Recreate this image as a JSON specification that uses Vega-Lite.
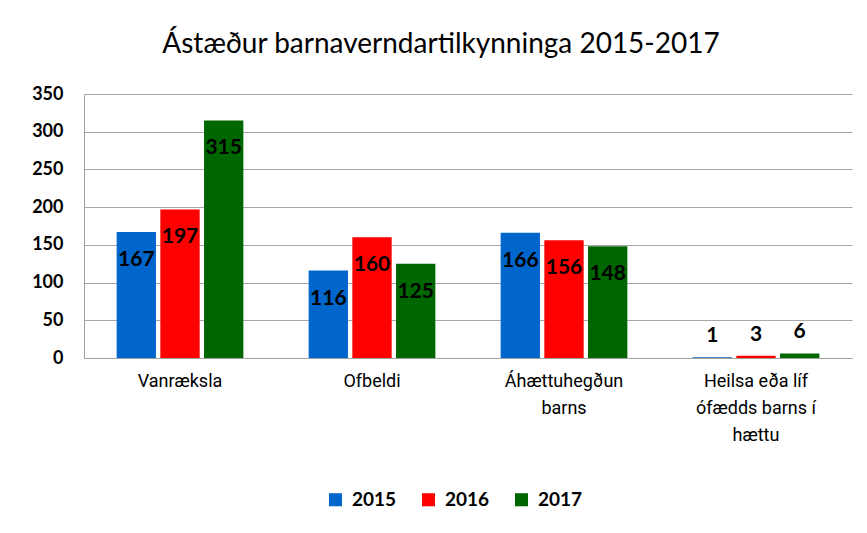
{
  "$schema": "https://vega.github.io/schema/vega-lite/v6.json",
  "width": 768,
  "height": 264,
  "autosize": "none",
  "padding": {"left": 84, "top": 94, "right": 15, "bottom": 175},
  "background": "white",
  "title": {
    "text": "Ástæður barnaverndartilkynninga 2015-2017",
    "font": "Lato",
    "fontSize": 28,
    "fontWeight": "normal",
    "color": "#000000",
    "anchor": "middle",
    "dx": -27,
    "offset": 26
  },
  "data": {
    "values": [
      {"flokkur": "Vanræksla", "ar": "2015", "fjoldi": 167},
      {"flokkur": "Vanræksla", "ar": "2016", "fjoldi": 197},
      {"flokkur": "Vanræksla", "ar": "2017", "fjoldi": 315},
      {"flokkur": "Ofbeldi", "ar": "2015", "fjoldi": 116},
      {"flokkur": "Ofbeldi", "ar": "2016", "fjoldi": 160},
      {"flokkur": "Ofbeldi", "ar": "2017", "fjoldi": 125},
      {"flokkur": "Áhættuhegðun barns", "ar": "2015", "fjoldi": 166},
      {"flokkur": "Áhættuhegðun barns", "ar": "2016", "fjoldi": 156},
      {"flokkur": "Áhættuhegðun barns", "ar": "2017", "fjoldi": 148},
      {"flokkur": "Heilsa eða líf ófædds barns í hættu", "ar": "2015", "fjoldi": 1},
      {"flokkur": "Heilsa eða líf ófædds barns í hættu", "ar": "2016", "fjoldi": 3},
      {"flokkur": "Heilsa eða líf ófædds barns í hættu", "ar": "2017", "fjoldi": 6}
    ]
  },
  "encoding": {
    "x": {
      "field": "flokkur",
      "type": "nominal",
      "sort": null,
      "scale": {"paddingInner": 0.34, "paddingOuter": 0.17},
      "axis": {
        "title": null,
        "labelAngle": 0,
        "ticks": false,
        "labelPadding": 14,
        "labelFont": "Roboto",
        "labelFontSize": 18,
        "labelColor": "#000000",
        "labelLineHeight": 27,
        "labelBaseline": "top",
        "labelLimit": 300,
        "domainColor": "#a0a0a0",
        "labelExpr": "datum.value == 'Áhættuhegðun barns' ? ['Áhættuhegðun', 'barns'] : datum.value == 'Heilsa eða líf ófædds barns í hættu' ? ['Heilsa eða líf', 'ófædds barns í', 'hættu'] : datum.value"
      }
    },
    "xOffset": {
      "field": "ar",
      "type": "nominal",
      "scale": {"paddingInner": 0.1, "paddingOuter": 0}
    },
    "y": {
      "field": "fjoldi",
      "type": "quantitative",
      "scale": {"domain": [0, 350]},
      "axis": {
        "title": null,
        "values": [0, 50, 100, 150, 200, 250, 300, 350],
        "ticks": false,
        "labelPadding": 21,
        "labelFont": "Lato",
        "labelFontSize": 18,
        "labelFontWeight": "bold",
        "labelColor": "#000000",
        "gridColor": "#a8a8a8",
        "domainColor": "#a0a0a0"
      }
    }
  },
  "layer": [
    {
      "mark": {"type": "bar"},
      "encoding": {
        "color": {
          "field": "ar",
          "type": "nominal",
          "scale": {"domain": ["2015", "2016", "2017"], "range": ["#0066CC", "#FF0000", "#006600"]},
          "legend": {
            "title": null,
            "orient": "none",
            "direction": "horizontal",
            "legendX": 242,
            "legendY": 396,
            "symbolType": "square",
            "symbolSize": 170,
            "symbolStrokeWidth": 0,
            "labelFont": "Lato",
            "labelFontSize": 19,
            "labelFontWeight": "bold",
            "labelColor": "#000000",
            "labelOffset": 7,
            "columnPadding": 22
          }
        }
      }
    },
    {
      "transform": [{"filter": "datum.fjoldi >= 20"}],
      "mark": {"type": "text", "font": "Lato", "fontSize": 21, "fontWeight": "bold", "color": "#000000", "baseline": "middle", "dy": 28},
      "encoding": {"text": {"field": "fjoldi", "type": "quantitative"}}
    },
    {
      "transform": [{"filter": "datum.fjoldi < 20"}],
      "mark": {"type": "text", "font": "Lato", "fontSize": 21, "fontWeight": "bold", "color": "#000000", "baseline": "middle", "dy": -21},
      "encoding": {"text": {"field": "fjoldi", "type": "quantitative"}}
    }
  ],
  "config": {"view": {"stroke": null}}
}
